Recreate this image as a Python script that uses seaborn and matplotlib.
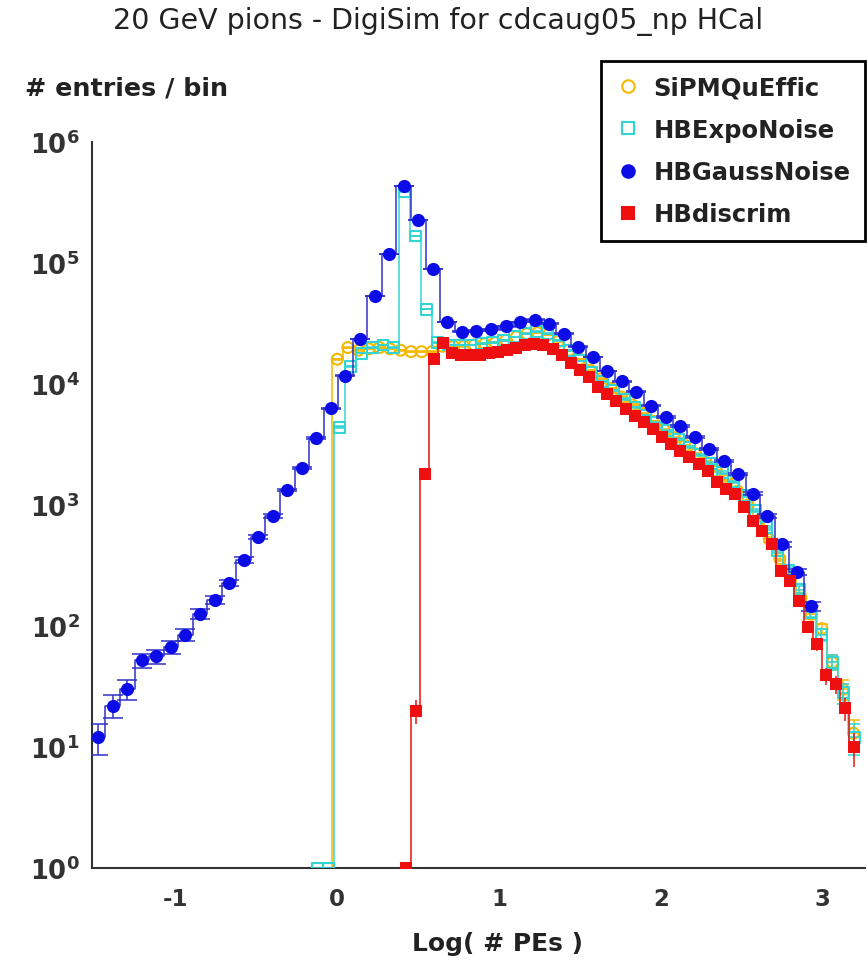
import numpy as np
import pandas as pd
import matplotlib
matplotlib.use("Agg")
import matplotlib.pyplot as plt
import seaborn as sns
from matplotlib.lines import Line2D
from matplotlib.ticker import FuncFormatter, NullLocator

# Binning of each histogram (first bin edge, bin width)
sipm_lo, sipm_w = -0.033, 0.0651
expo_lo, expo_w = -0.158, 0.0677
gauss_lo, gauss_w = -1.523, 0.0899
discrim_lo, discrim_w = 0.399, 0.0564

# Entries per bin (50 bins each)
sipm_counts = [16000, 20000, 19000, 19500, 20000, 19500, 19000, 18500, 18500, 18500,
               20500, 20500, 20500, 21000, 21500, 22000, 23000, 24500, 26000, 26500,
               25500, 22500, 19000, 16000, 13000, 11000, 9200, 7800, 6700, 5700,
               4900, 4200, 3600, 3100, 2650, 2250, 1900, 1600, 1300, 1000,
               750, 520, 360, 250, 170, 125, 95, 50, 30, 13]

expo_counts = [1, 1, 4400, 14000, 18000, 20000, 21000, 20000, 390000, 167000,
               41500, 22000, 21000, 21000, 21000, 21500, 22000, 23000, 24500, 26000,
               27000, 26000, 23000, 19000, 15500, 12500, 10500, 8800, 7500, 6400,
               5500, 4800, 4100, 3500, 3000, 2600, 2200, 1850, 1550, 1200,
               900, 650, 420, 290, 200, 130, 85, 50, 28, 12]

gauss_counts = [12, 22, 30, 52, 56, 67, 85, 126, 164, 227,
                353, 545, 814, 1330, 2030, 3560, 6300, 11700, 23500, 53500,
                118000, 433000, 227000, 89000, 32500, 27000, 27500, 28300, 30000, 32500,
                34000, 31500, 26000, 20300, 16700, 12800, 10500, 8600, 6600, 5350,
                4500, 3640, 2900, 2300, 1800, 1240, 814, 475, 280, 146]

discrim_counts = [1, 20, 1800, 16000, 22000, 18000, 17500, 17500, 17500, 18000,
                  18500, 19000, 20000, 21000, 21500, 21000, 19500, 17500, 15000, 13000,
                  11400, 9500, 8300, 7200, 6200, 5450, 4850, 4260, 3650, 3180,
                  2800, 2500, 2180, 1910, 1550, 1350, 1230, 960, 740, 610,
                  475, 285, 235, 161, 98, 71, 39, 33, 21, 10]

series_names = ["SiPMQuEffic", "HBExpoNoise", "HBGaussNoise", "HBdiscrim"]
series_colors = ["#f5b800", "#33d4d4", "#0c0ce6", "#ee1010"]
line_colors = ["#f5b800", "#33d4d4", "#3030c8", "#ee1010"]

title = "20 GeV pions - DigiSim for cdcaug05_np HCal"

sns.set_style("white")
plt.rcParams["font.family"] = ["DejaVu Sans"]

fig = plt.figure(figsize=(8.68, 9.62), dpi=100)
ax = fig.add_axes([0.106, 0.0967, 0.8905, 0.7547])
ax.set_yscale("log")

styles = [
    # marker, size, filled, capsize, zorder
    ("o", 62, False, 4, 2),
    ("s", 62, False, 4, 3),
    ("o", 90, True, 7, 4),
    ("s", 66, True, 0, 5),
]
binning = [(sipm_lo, sipm_w), (expo_lo, expo_w), (gauss_lo, gauss_w), (discrim_lo, discrim_w)]
all_counts = [sipm_counts, expo_counts, gauss_counts, discrim_counts]

for name, col, lcol, (lo, w), counts, (mk, size, filled, cap, z) in zip(
        series_names, series_colors, line_colors, binning, all_counts, styles):
    counts = np.asarray(counts, dtype=float)
    n = len(counts)
    # one empty bin in front so the outline rises from the floor
    edges = lo + w * np.arange(-1, n + 1)
    centers = lo + w * (np.arange(n) + 0.5)
    df = pd.DataFrame({"x": centers, "n": counts})
    sns.histplot(data=df, x="x", weights="n", bins=list(edges), element="step",
                 fill=False, color=lcol, linewidth=1.1, ax=ax, zorder=z)
    keep = counts > 1
    ax.errorbar(centers[keep], counts[keep], yerr=np.sqrt(counts[keep]), fmt="none",
                ecolor=lcol, elinewidth=1.1, capsize=cap, capthick=1.1, zorder=z)
    if filled:
        sns.scatterplot(x=centers, y=counts, marker=mk, s=size, color=col,
                        edgecolor=col, linewidth=0, ax=ax, zorder=z + 0.5, legend=False)
    else:
        sns.scatterplot(x=centers, y=counts, marker=mk, s=size, facecolor="none",
                        edgecolor=col, linewidth=1.5, ax=ax, zorder=z + 0.5, legend=False)

ax.set_xlim(-1.516, 3.26)
ax.set_ylim(1, 1e6)
ax.set_xlabel("")
ax.set_ylabel("")

ax.set_xticks([-1, 0, 1, 2, 3])
ax.set_xticklabels(["-1", "0", "1", "2", "3"], fontsize=16.5, fontweight="bold", color="#333333")
ax.set_yticks([1e0, 1e1, 1e2, 1e3, 1e4, 1e5, 1e6])
ax.yaxis.set_major_formatter(FuncFormatter(lambda v, p: r"$\mathbf{10^{%d}}$" % round(np.log10(v))))
ax.yaxis.set_minor_locator(NullLocator())
for lab in ax.get_yticklabels():
    lab.set_fontsize(18.5)
    lab.set_color("#333333")

ax.tick_params(axis="both", direction="inout", length=16, width=1.5, color="#333333")
ax.tick_params(axis="y", pad=1)
ax.tick_params(axis="x", pad=6)
for side in ["top", "right"]:
    ax.spines[side].set_visible(False)
for side in ["left", "bottom"]:
    ax.spines[side].set_color("#333333")
    ax.spines[side].set_linewidth(1.5)

fig.text(0.505, 1 - 22 / 962, title, ha="center", va="center", fontsize=20.5, color="#222222")
fig.text(25 / 868, 1 - 88 / 962, "# entries / bin", ha="left", va="center",
         fontsize=18.3, fontweight="bold", color="#222222")
fig.text(497 / 868, 1 - 944 / 962, "Log( # PEs )", ha="center", va="center",
         fontsize=18, fontweight="bold", color="#222222")

handles = []
for col, (mk, size, filled, cap, z) in zip(series_colors, styles):
    handles.append(Line2D([], [], linestyle="none", marker=mk, markersize=9,
                          markerfacecolor=col if filled else "none",
                          markeredgecolor=col, markeredgewidth=1.5))
leg = fig.legend(handles, series_names, loc="upper right", bbox_to_anchor=(0.9965, 0.9355),
                 frameon=True, fancybox=False, edgecolor="black", framealpha=1,
                 prop={"weight": "bold", "size": 17.5}, handletextpad=0.55,
                 borderpad=0.6, labelspacing=0.75, handlelength=1.0, borderaxespad=0)
leg.get_frame().set_linewidth(2)
for t in leg.get_texts():
    t.set_color("#222222")

fig.savefig("out.png", dpi=100)
